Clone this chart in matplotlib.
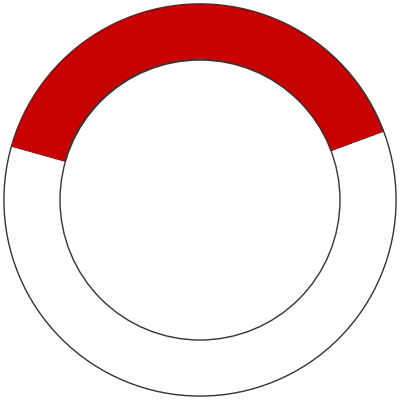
import matplotlib
matplotlib.use("Agg")
import matplotlib.pyplot as plt
from matplotlib.patches import Circle

# donut data
labels = ["filled", "rest"]
values = [40, 60]
colors = ["#c80000", "#ffffff"]

outer_r = 1.0
inner_r = 0.714

fig = plt.figure(figsize=(4, 4), dpi=100)
ax = fig.add_axes([0, 0, 1, 1])

ax.pie(
    values,
    colors=colors,
    startangle=20.3,
    counterclock=True,
    radius=outer_r,
    wedgeprops=dict(width=outer_r - inner_r, edgecolor="none", linewidth=0),
)

# thin outlines on the ring edges
for r in (outer_r, inner_r):
    ax.add_patch(Circle((0, 0), r, fill=False, edgecolor="#333333", linewidth=1.0))

ax.set_xlim(-1.02, 1.02)
ax.set_ylim(-1.02, 1.02)
ax.set_aspect("equal")
ax.axis("off")

fig.savefig("out.png", dpi=100, facecolor="white")
